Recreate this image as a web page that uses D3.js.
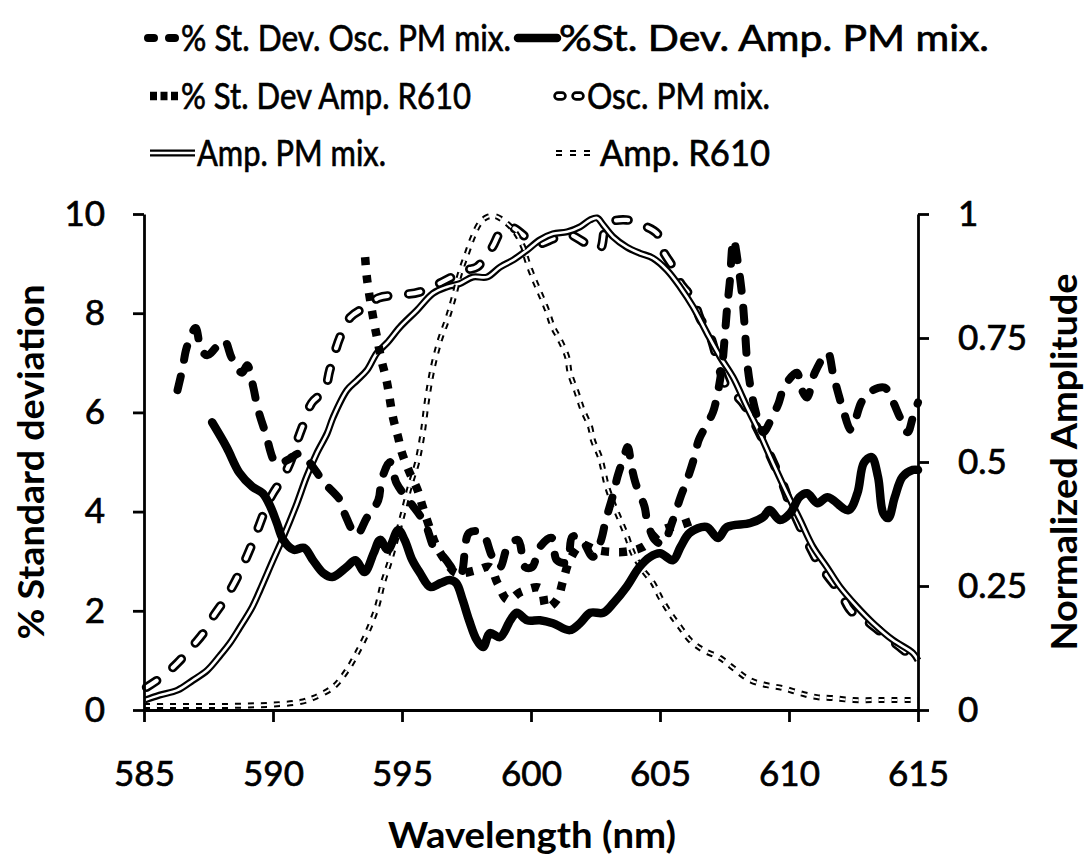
<!DOCTYPE html>
<html><head><meta charset="utf-8">
<script src="https://cdn.jsdelivr.net/npm/d3@7"></script>
<style>
body{margin:0;background:#fff;}
text{font-family:Lato,"Open Sans",sans-serif;fill:#000;}
</style>
</head><body>
<svg id="c" width="1092" height="858"></svg>
<script>
// ---------- DATA ----------
const xTicks = [585, 590, 595, 600, 605, 610, 615];
const yLeftTicks = [0, 2, 4, 6, 8, 10];
const yRightTicks = [0, 0.25, 0.5, 0.75, 1];
const legendLabels = ["% St. Dev. Osc. PM mix.", "%St. Dev. Amp. PM mix.", "% St. Dev Amp. R610", "Osc. PM mix.", "Amp. PM mix.", "Amp. R610"];
const xTitle = "Wavelength (nm)";
const yLeftTitle = "% Standard deviation";
const yRightTitle = "Normalized Amplitude";

// % St. Dev. Osc. PM mix. (left axis) [wavelength, %]
const stdOscPM = [[586.3,6.45],[586.5,6.9],[586.65,7.3],[587.0,7.7],[587.2,7.3],[587.45,7.15],[588.1,7.45],[588.4,7.1],[588.8,6.8],[589.0,6.95],[589.24,6.5],[589.4,6.1],[589.7,5.6],[590.14,4.97],[590.6,5.05],[591.05,5.17],[591.63,4.84],[591.95,4.6],[592.6,4.23],[592.8,3.93],[593.24,3.53],[593.63,3.87],[594.08,4.23],[594.21,4.64],[594.53,5.0],[594.79,4.57],[595.3,4.2],[595.89,3.76],[596.28,3.23],[596.6,3.09],[597.25,2.72],[597.6,3.57],[598.1,3.57],[598.5,3.09],[598.8,2.88],[599.1,3.29],[599.5,3.43],[599.77,2.88],[600.04,2.88],[600.35,3.29],[600.8,3.47],[601.0,3.02],[601.4,2.98],[601.6,3.49],[601.9,3.49],[602.4,3.09],[602.7,3.4],[602.9,3.83],[603.2,4.37],[603.35,4.7],[603.6,5.1],[603.75,5.3],[603.9,4.9],[604.05,4.58],[604.4,4.1],[604.5,3.83],[604.8,3.43],[605.1,3.35],[605.5,3.83],[605.8,4.3],[606.05,4.64],[606.3,5.04],[606.5,5.44],[606.75,5.7],[607.05,6.0],[607.2,6.3],[607.4,6.9],[607.5,7.46],[607.6,8.1],[607.7,8.6],[607.85,9.48],[608.05,8.9],[608.2,8.27],[608.3,7.6],[608.4,6.9],[608.6,6.25],[608.8,5.85],[609.0,5.6],[609.3,5.85],[609.6,6.19],[609.8,6.5],[610.3,6.8],[610.5,6.45],[610.7,6.3],[611.0,6.8],[611.5,7.2],[611.7,6.8],[611.9,6.4],[612.1,6.05],[612.4,5.65],[612.8,6.2],[613.1,6.4],[613.7,6.5],[614.0,6.25],[614.3,5.9],[614.6,5.6],[614.8,5.9],[615.0,6.2]];

// %St. Dev. Amp. PM mix. (left axis)
const stdAmpPM = [[587.64,5.8],[588.2,5.3],[588.7,4.78],[589.2,4.5],[589.6,4.37],[589.9,4.1],[590.15,3.77],[590.4,3.43],[590.8,3.23],[591.2,3.27],[591.55,3.02],[591.95,2.76],[592.3,2.68],[592.85,2.88],[593.2,3.02],[593.55,2.78],[593.9,3.16],[594.15,3.43],[594.45,3.23],[594.85,3.63],[595.1,3.43],[595.4,3.02],[595.7,2.76],[596.1,2.48],[596.5,2.56],[596.85,2.62],[597.1,2.56],[597.35,2.22],[597.6,1.81],[597.9,1.41],[598.15,1.27],[598.4,1.55],[598.8,1.47],[599.2,1.81],[599.45,1.96],[599.85,1.81],[600.35,1.81],[600.85,1.75],[601.5,1.61],[601.9,1.75],[602.3,1.96],[602.8,1.96],[603.2,2.16],[603.7,2.48],[604.2,2.88],[604.6,3.08],[605.0,3.16],[605.5,3.02],[605.8,3.29],[606.15,3.57],[606.8,3.69],[607.25,3.47],[607.6,3.69],[608.5,3.77],[609.0,3.89],[609.25,4.03],[609.65,3.83],[610.05,3.97],[610.4,4.29],[610.7,4.37],[611.1,4.17],[611.5,4.29],[612.3,4.03],[612.65,4.37],[612.9,4.98],[613.2,5.1],[613.45,4.7],[613.65,3.97],[613.85,3.87],[614.1,4.29],[614.4,4.7],[614.8,4.84],[615.0,4.84]];

// % St. Dev Amp. R610 (left axis)
const stdAmpR610 = [[593.57,9.13],[593.65,8.67],[593.9,7.86],[594.05,7.46],[594.2,7.06],[594.4,6.65],[594.65,5.9],[594.85,5.5],[595.0,5.18],[595.3,4.78],[595.6,4.44],[595.8,4.1],[596.1,3.63],[596.35,3.29],[596.75,2.96],[597.1,2.76],[597.9,2.82],[598.4,2.88],[598.7,2.56],[599.1,2.22],[599.6,2.38],[600.35,2.46],[600.6,2.06],[601.0,2.22],[601.25,2.62],[601.5,3.02],[601.95,3.33],[602.5,3.23],[603.05,3.19],[603.65,3.19],[604.35,3.29],[605.1,3.63],[605.8,3.73],[606.55,3.87]];

// Osc. PM mix. (right axis)
const oscPM = [[585.1,0.046],[585.7,0.067],[586.3,0.095],[586.9,0.13],[587.3,0.155],[587.7,0.19],[588.1,0.22],[588.5,0.256],[588.8,0.288],[589.2,0.336],[589.4,0.363],[589.8,0.417],[590.0,0.437],[590.4,0.47],[590.7,0.504],[590.95,0.544],[591.2,0.579],[591.5,0.619],[592.0,0.645],[592.2,0.685],[592.6,0.752],[593.0,0.792],[593.6,0.813],[594.1,0.831],[594.9,0.837],[595.7,0.843],[597.5,0.887],[597.9,0.893],[598.5,0.933],[598.8,0.962],[599.19,0.974],[600.23,0.94],[600.85,0.95],[601.4,0.96],[602.17,0.94],[602.67,0.93],[602.95,0.98],[603.7,0.988],[604.2,0.98],[604.9,0.96],[605.1,0.927],[605.5,0.893],[605.8,0.86],[606.3,0.827],[606.55,0.79],[606.9,0.76],[607.6,0.65],[608.2,0.62],[609.8,0.45],[610.0,0.42],[611.1,0.3],[611.5,0.27],[612.0,0.236],[612.4,0.2],[613.0,0.18],[613.8,0.147],[614.3,0.127],[614.8,0.107],[615.0,0.105]];

// Amp. PM mix. (right axis)
const ampPM = [[585.04,0.02],[585.6,0.03],[586.3,0.04],[586.9,0.06],[587.45,0.08],[587.95,0.11],[588.33,0.135],[588.7,0.165],[589.2,0.208],[589.5,0.242],[590.0,0.302],[590.4,0.349],[590.93,0.417],[591.3,0.47],[591.7,0.518],[592.1,0.558],[592.33,0.59],[592.87,0.645],[593.26,0.665],[593.64,0.685],[594.03,0.72],[594.42,0.74],[594.92,0.772],[595.58,0.806],[596.2,0.84],[596.74,0.853],[597.25,0.86],[597.75,0.873],[598.3,0.873],[598.8,0.893],[599.3,0.907],[599.84,0.927],[600.35,0.948],[600.85,0.96],[601.4,0.964],[601.9,0.974],[602.29,0.988],[602.56,0.992],[602.8,0.978],[603.18,0.954],[603.72,0.933],[604.22,0.921],[604.73,0.911],[605.27,0.887],[605.78,0.853],[606.28,0.813],[606.82,0.76],[607.33,0.712],[607.83,0.671],[608.37,0.611],[608.76,0.57],[609.38,0.498],[609.92,0.437],[610.43,0.383],[610.93,0.329],[611.47,0.288],[611.98,0.248],[612.64,0.208],[613.26,0.175],[614.03,0.141],[614.8,0.115],[615.0,0.1]];

// Amp. R610 (right axis)
const ampR610 = [[585.0,0.008],[586.0,0.008],[587.0,0.008],[588.0,0.008],[589.0,0.009],[590.0,0.011],[591.05,0.016],[591.55,0.024],[592.33,0.046],[592.87,0.08],[593.26,0.115],[593.64,0.155],[594.03,0.208],[594.26,0.256],[594.53,0.3],[594.8,0.35],[595.04,0.397],[595.3,0.45],[595.58,0.498],[595.8,0.558],[595.97,0.625],[596.2,0.692],[596.47,0.746],[596.74,0.786],[596.98,0.827],[597.25,0.881],[597.52,0.921],[597.75,0.954],[598.02,0.982],[598.3,0.994],[598.6,0.996],[599.0,0.984],[599.38,0.964],[599.7,0.933],[599.84,0.907],[600.08,0.873],[600.35,0.84],[600.62,0.806],[600.85,0.772],[601.12,0.746],[601.4,0.712],[601.5,0.68],[601.78,0.639],[602.0,0.605],[602.29,0.571],[602.4,0.544],[602.67,0.51],[602.95,0.45],[603.18,0.417],[603.45,0.383],[603.72,0.349],[603.95,0.316],[604.34,0.282],[604.73,0.256],[605.0,0.228],[605.39,0.195],[605.78,0.167],[606.16,0.141],[606.67,0.121],[607.33,0.105],[607.83,0.085],[608.5,0.06],[609.15,0.05],[609.77,0.044],[610.43,0.034],[611.08,0.026],[611.7,0.024],[612.5,0.02],[613.26,0.02],[614.03,0.02],[615.0,0.02]];

// ---------- CHART ----------
const svg = d3.select("#c");
const x = d3.scaleLinear().domain([585, 615]).range([144, 918]);
const yL = d3.scaleLinear().domain([0, 10]).range([710, 214]);
const yR = d3.scaleLinear().domain([0, 1]).range([710, 214]);

const styleA = [{c:"#000", w:8, d:"14 17", cap:"round"}];
const styleB = [{c:"#000", w:8.5, cap:"round"}];
const styleC = [{c:"#000", w:8.5, d:"8 10"}];
const styleD = [{c:"#000", w:9.5, d:"12 21", cap:"round"}, {c:"#fff", w:4.2, d:"12 21", cap:"round"}];
const styleE = [{c:"#000", w:7}, {c:"#fff", w:2.6}];
const styleF = [{c:"#000", w:6, d:"6 7"}, {c:"#fff", w:2, d:"6 7"}];

function drawSeries(g, data, yS, layers) {
  const line = d3.line().x(d => x(d[0])).y(d => yS(d[1])).curve(d3.curveCatmullRom.alpha(0.5));
  layers.forEach(l => {
    g.append("path").datum(data).attr("d", line)
      .attr("fill", "none").attr("stroke", l.c).attr("stroke-width", l.w)
      .attr("stroke-dasharray", l.d || null)
      .attr("stroke-linecap", l.cap || "butt").attr("stroke-linejoin", "round");
  });
}

const plot = svg.append("g");
drawSeries(plot, oscPM, yR, styleD);
drawSeries(plot, ampPM, yR, styleE);
drawSeries(plot, ampR610, yR, styleF);
drawSeries(plot, stdAmpR610, yL, styleC);
drawSeries(plot, stdOscPM, yL, styleA);
drawSeries(plot, stdAmpPM, yL, styleB);

// axes
function styleAxis(g, fs) {
  g.select(".domain").attr("stroke", "#000").attr("stroke-width", 2.8);
  g.selectAll(".tick line").attr("stroke", "#000").attr("stroke-width", 2.8);
  g.selectAll(".tick text").attr("font-size", fs).attr("font-family", "Lato").attr("fill", "#000")
    .attr("stroke", "#000").attr("stroke-width", 0.7);
}
const gx = svg.append("g").attr("transform", "translate(0,710)")
  .call(d3.axisBottom(x).tickValues(xTicks).tickSize(12).tickSizeOuter(0).tickPadding(39).tickFormat(d3.format("d")));
styleAxis(gx, 35);
const gl = svg.append("g").attr("transform", "translate(144,0)")
  .call(d3.axisLeft(yL).tickValues(yLeftTicks).tickSize(11).tickSizeOuter(0).tickPadding(28).tickFormat(d3.format("d")));
styleAxis(gl, 35);
const gr = svg.append("g").attr("transform", "translate(918,0)")
  .call(d3.axisRight(yR).tickValues(yRightTicks).tickSize(11).tickSizeOuter(0).tickPadding(29).tickFormat(d => String(d)));
styleAxis(gr, 35);

// titles
svg.append("text").attr("x", 532).attr("y", 848).attr("text-anchor", "middle")
  .attr("font-size", 37).attr("font-weight", 700).attr("textLength", 288).attr("lengthAdjust", "spacingAndGlyphs").text(xTitle);
svg.append("text").attr("transform", "translate(44,462) rotate(-90)").attr("text-anchor", "middle")
  .attr("font-size", 37).attr("font-weight", 700).attr("textLength", 355).attr("lengthAdjust", "spacingAndGlyphs").text(yLeftTitle);
svg.append("text").attr("transform", "translate(1077,462) rotate(-90)").attr("text-anchor", "middle")
  .attr("font-size", 37).attr("font-weight", 700).attr("textLength", 377).attr("lengthAdjust", "spacingAndGlyphs").text(yRightTitle);

// legend
const legendItems = [
  {label: legendLabels[0], style: styleA, sx: [148, 175], dash: "6 15", tx: 181, tl: 330, y: 51},
  {label: legendLabels[1], style: styleB, sx: [518, 557], dash: null, tx: 559, tl: 430, y: 51},
  {label: legendLabels[2], style: styleC, sx: [150, 178], dash: "7 3.5", tx: 181, tl: 290, y: 109},
  {label: legendLabels[3], style: styleD, sx: [558, 580], dash: "4 14", tx: 587, tl: 183, y: 109},
  {label: legendLabels[4], style: styleE, sx: [150, 195], dash: null, tx: 197, tl: 189, y: 166},
  {label: legendLabels[5], style: styleF, sx: [556, 590], dash: "6 8", tx: 600, tl: 170, y: 166}
];
const lg = svg.append("g");
legendItems.forEach(it => {
  const yy = it.y - 13;
  it.style.forEach(l => {
    lg.append("line").attr("x1", it.sx[0]).attr("x2", it.sx[1]).attr("y1", yy).attr("y2", yy)
      .attr("stroke", l.c).attr("stroke-width", l.w)
      .attr("stroke-dasharray", l.d ? it.dash : null)
      .attr("stroke-linecap", l.cap === "round" ? "round" : "butt");
  });
  lg.append("text").attr("x", it.tx).attr("y", it.y).attr("font-size", 37)
    .attr("stroke", "#000").attr("stroke-width", 0.7)
    .attr("textLength", it.tl).attr("lengthAdjust", "spacingAndGlyphs").text(it.label);
});
</script>
</body></html>
